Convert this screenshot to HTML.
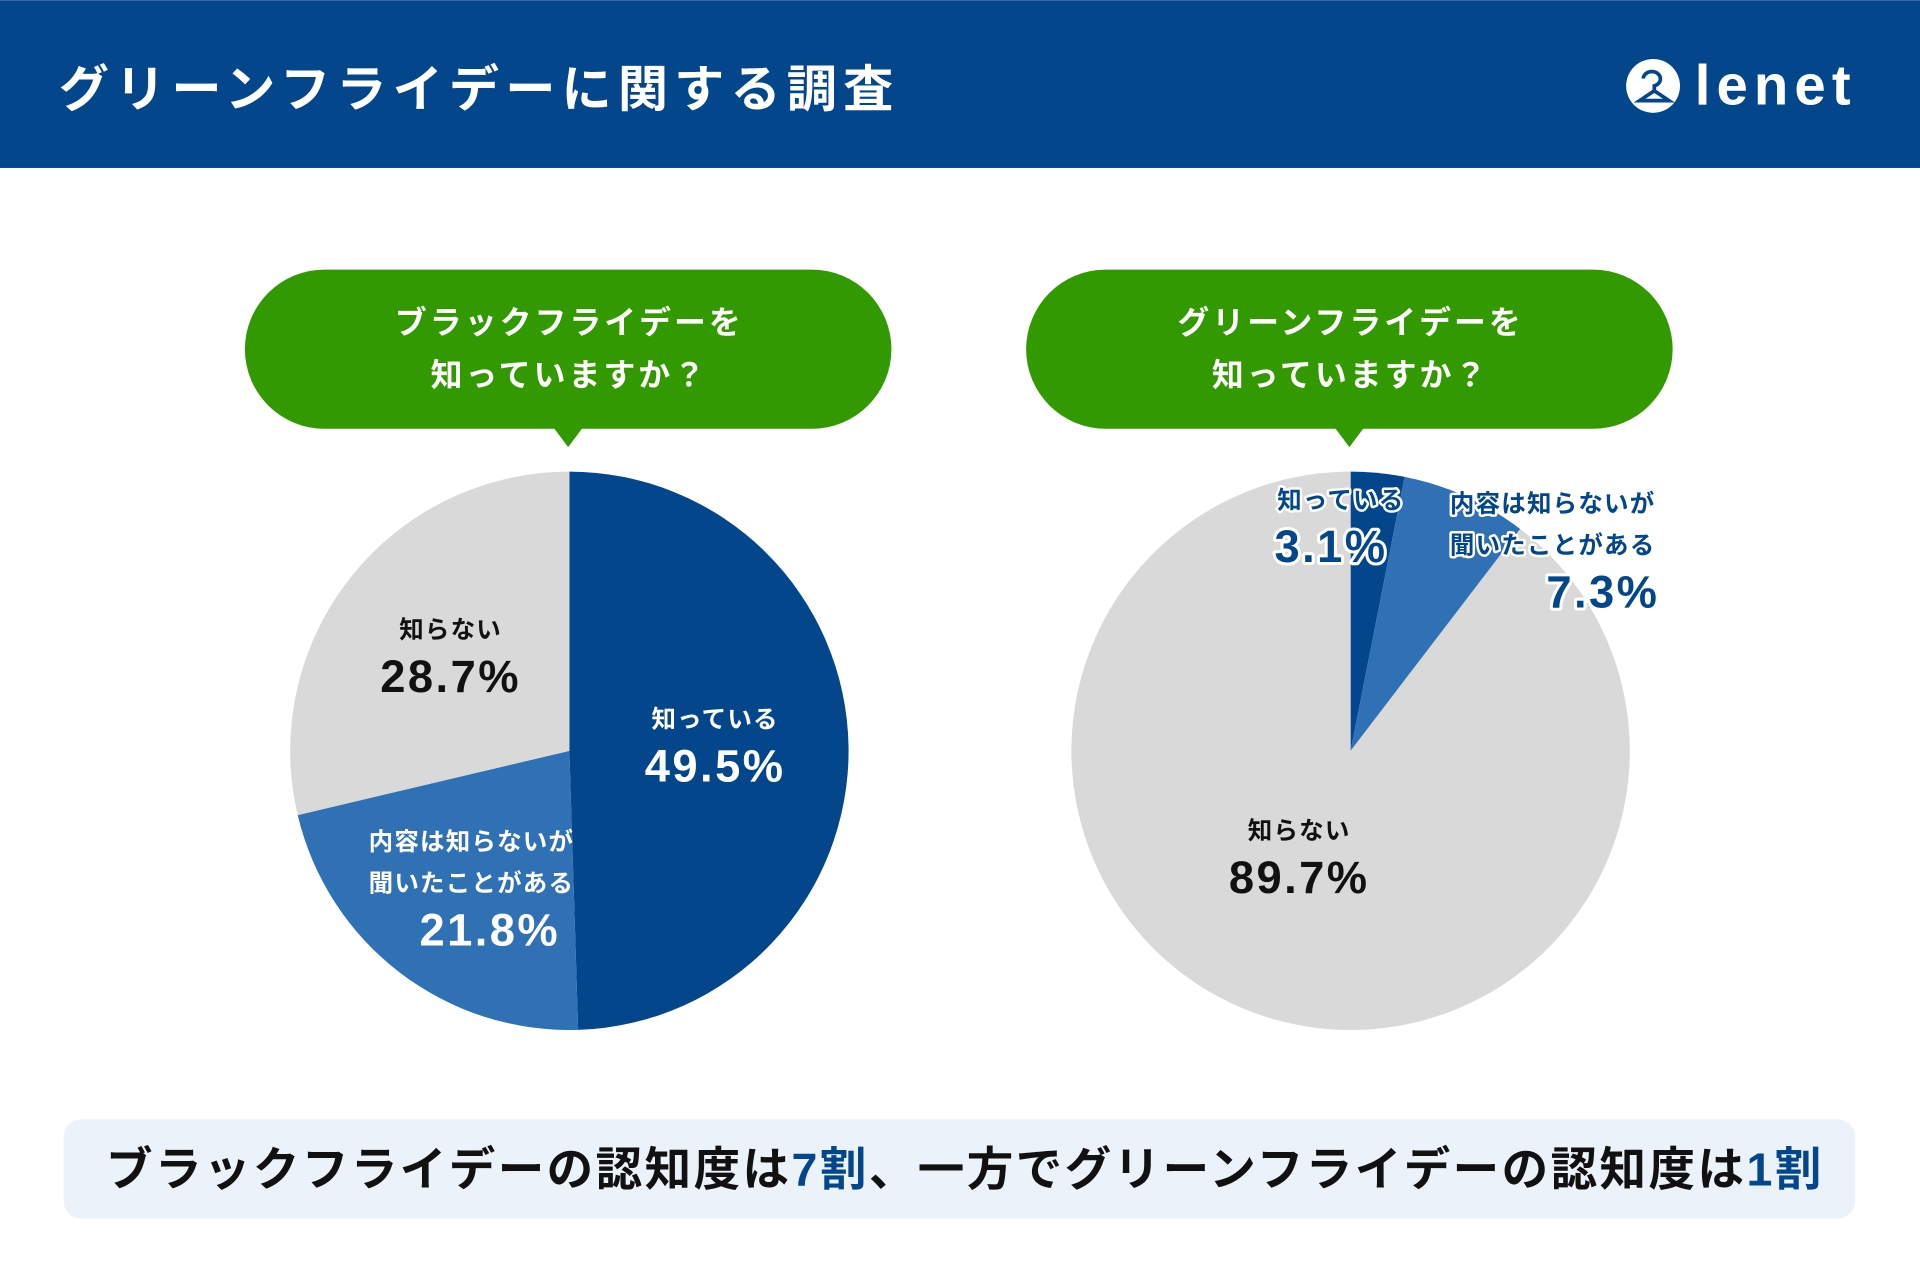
<!DOCTYPE html>
<html><head><meta charset="utf-8"><style>
html,body{margin:0;padding:0;background:#fff}
svg{display:block}
text{font-family:"Liberation Sans","Noto Sans CJK JP",sans-serif;font-weight:bold}
</style></head><body>
<svg id="chart" width="1920" height="1280" viewBox="0 0 1568 1045">
<rect x="0" y="0" width="1568" height="137" fill="#03468c"/>
<text x="48" y="87" font-size="41" letter-spacing="5" fill="#fff">グリーンフライデーに関する調査</text>
<g>
<circle cx="1350" cy="70" r="22" fill="#fff"/>
<path d="M1342 64 a7 6 0 1 1 9 6 v4 l12 8 h-24 l12 -8" fill="none" stroke="#03468c" stroke-width="3"/>
<text x="1384" y="85" font-size="46" fill="#fff" font-weight="normal" letter-spacing="5">lenet</text>
</g>
<g id="bubbles"></g>
<g id="pies"></g>
<rect x="52" y="914" width="1463" height="81" rx="14" fill="#ebf2fa"/>
<text x="788" y="968" font-size="38" letter-spacing="2" text-anchor="middle" fill="#111">ブラックフライデーの認知度は<tspan fill="#03468c">7割</tspan>、一方でグリーンフライデーの認知度は<tspan fill="#03468c">1割</tspan></text>
</svg>
<script>
const categories = ["知っている", "内容は知らないが聞いたことがある", "知らない"];
const blackValues = [49.5, 21.8, 28.7];
const greenValues = [3.1, 7.3, 89.7];
const questions = [["ブラックフライデーを","知っていますか？"],["グリーンフライデーを","知っていますか？"]];
const colors = ["#03468c", "#3070b5", "#d9d9d9"];
const NS = "http://www.w3.org/2000/svg";
function mk(tag, attrs, parent){const e=document.createElementNS(NS,tag);for(const k in attrs)e.setAttribute(k,attrs[k]);parent.appendChild(e);return e;}
const pies = document.getElementById('pies');
const bubbles = document.getElementById('bubbles');
const R = 228;
const centers = [[465,613],[1103,613]];
function pt(cx,cy,r,frac){const a=frac*2*Math.PI-Math.PI/2;return [cx+r*Math.cos(a),cy+r*Math.sin(a)];}
function label(lines, x, y, fill, stroke, big, name, bigX){
  const g = mk('g',{},pies);
  
  
  lines.forEach((l,i)=>{
    const isBig = i===lines.length-1;
    const t = mk('text',{x:(isBig&&bigX)?bigX:x,y:y+i*34+(isBig?10:0),'font-size':isBig?big:20,'text-anchor':'middle',fill:fill,'font-weight':isBig?'normal':'bold','letter-spacing':isBig?2:1},g);
    if(stroke){t.setAttribute('stroke',stroke);t.setAttribute('stroke-width',isBig?5:4);t.setAttribute('paint-order','stroke');t.setAttribute('stroke-linejoin','round');}
    t.textContent=l;
  });
}
[blackValues, greenValues].forEach((vals, pi)=>{
  const [cx,cy]=centers[pi];
  const total = vals.reduce((a,b)=>a+b,0);
  let acc=0;
  vals.forEach((v,i)=>{
    const f0=acc/total, f1=(acc+v)/total; acc+=v;
    const p0=pt(cx,cy,R,f0), p1=pt(cx,cy,R,f1);
    const large=(f1-f0)>0.5?1:0;
    const p=mk('path',{d:`M${cx},${cy} L${p0[0]},${p0[1]} A${R},${R} 0 ${large} 1 ${p1[0]},${p1[1]} Z`,fill:colors[i]},pies);
    
    
  });
  const bx=cx-265, by=220;
  const r=mk('rect',{x:bx,y:by,width:528,height:130,rx:65,fill:'#339900'},bubbles);
  
  
  mk('path',{d:`M${cx-1-12},349 L${cx-1},365 L${cx-1+12},349 Z`,fill:'#339900'},bubbles);
  questions[pi].forEach((l,i)=>{
    const t=mk('text',{x:cx,y:272+i*43,'font-size':26,'letter-spacing':2.5,'text-anchor':'middle',fill:'#fff'},bubbles);
    
    
    t.textContent=l;
  });
});
const pct = v=>v.toFixed(1)+'%';
label([categories[0], pct(blackValues[0])], 584, 594, '#fff', null, 37, 'label-black-know');
label(['知らない', pct(blackValues[2])], 368, 521, '#111', null, 37, 'label-black-dontknow');
label(['内容は知らないが','聞いたことがある', pct(blackValues[1])], 385, 694, '#fff', null, 37, 'label-black-heard', 400);
label([categories[0], pct(greenValues[0])], 1095, 415, '#03468c', '#fff', 37, 'label-green-know', 1087);
label(['内容は知らないが','聞いたことがある', pct(greenValues[1])], 1268, 418, '#03468c', '#fff', 37, 'label-green-heard', 1309);
label(['知らない', pct(greenValues[2])], 1061, 685, '#111', null, 37, 'label-green-dontknow');
</script>
</body></html>
